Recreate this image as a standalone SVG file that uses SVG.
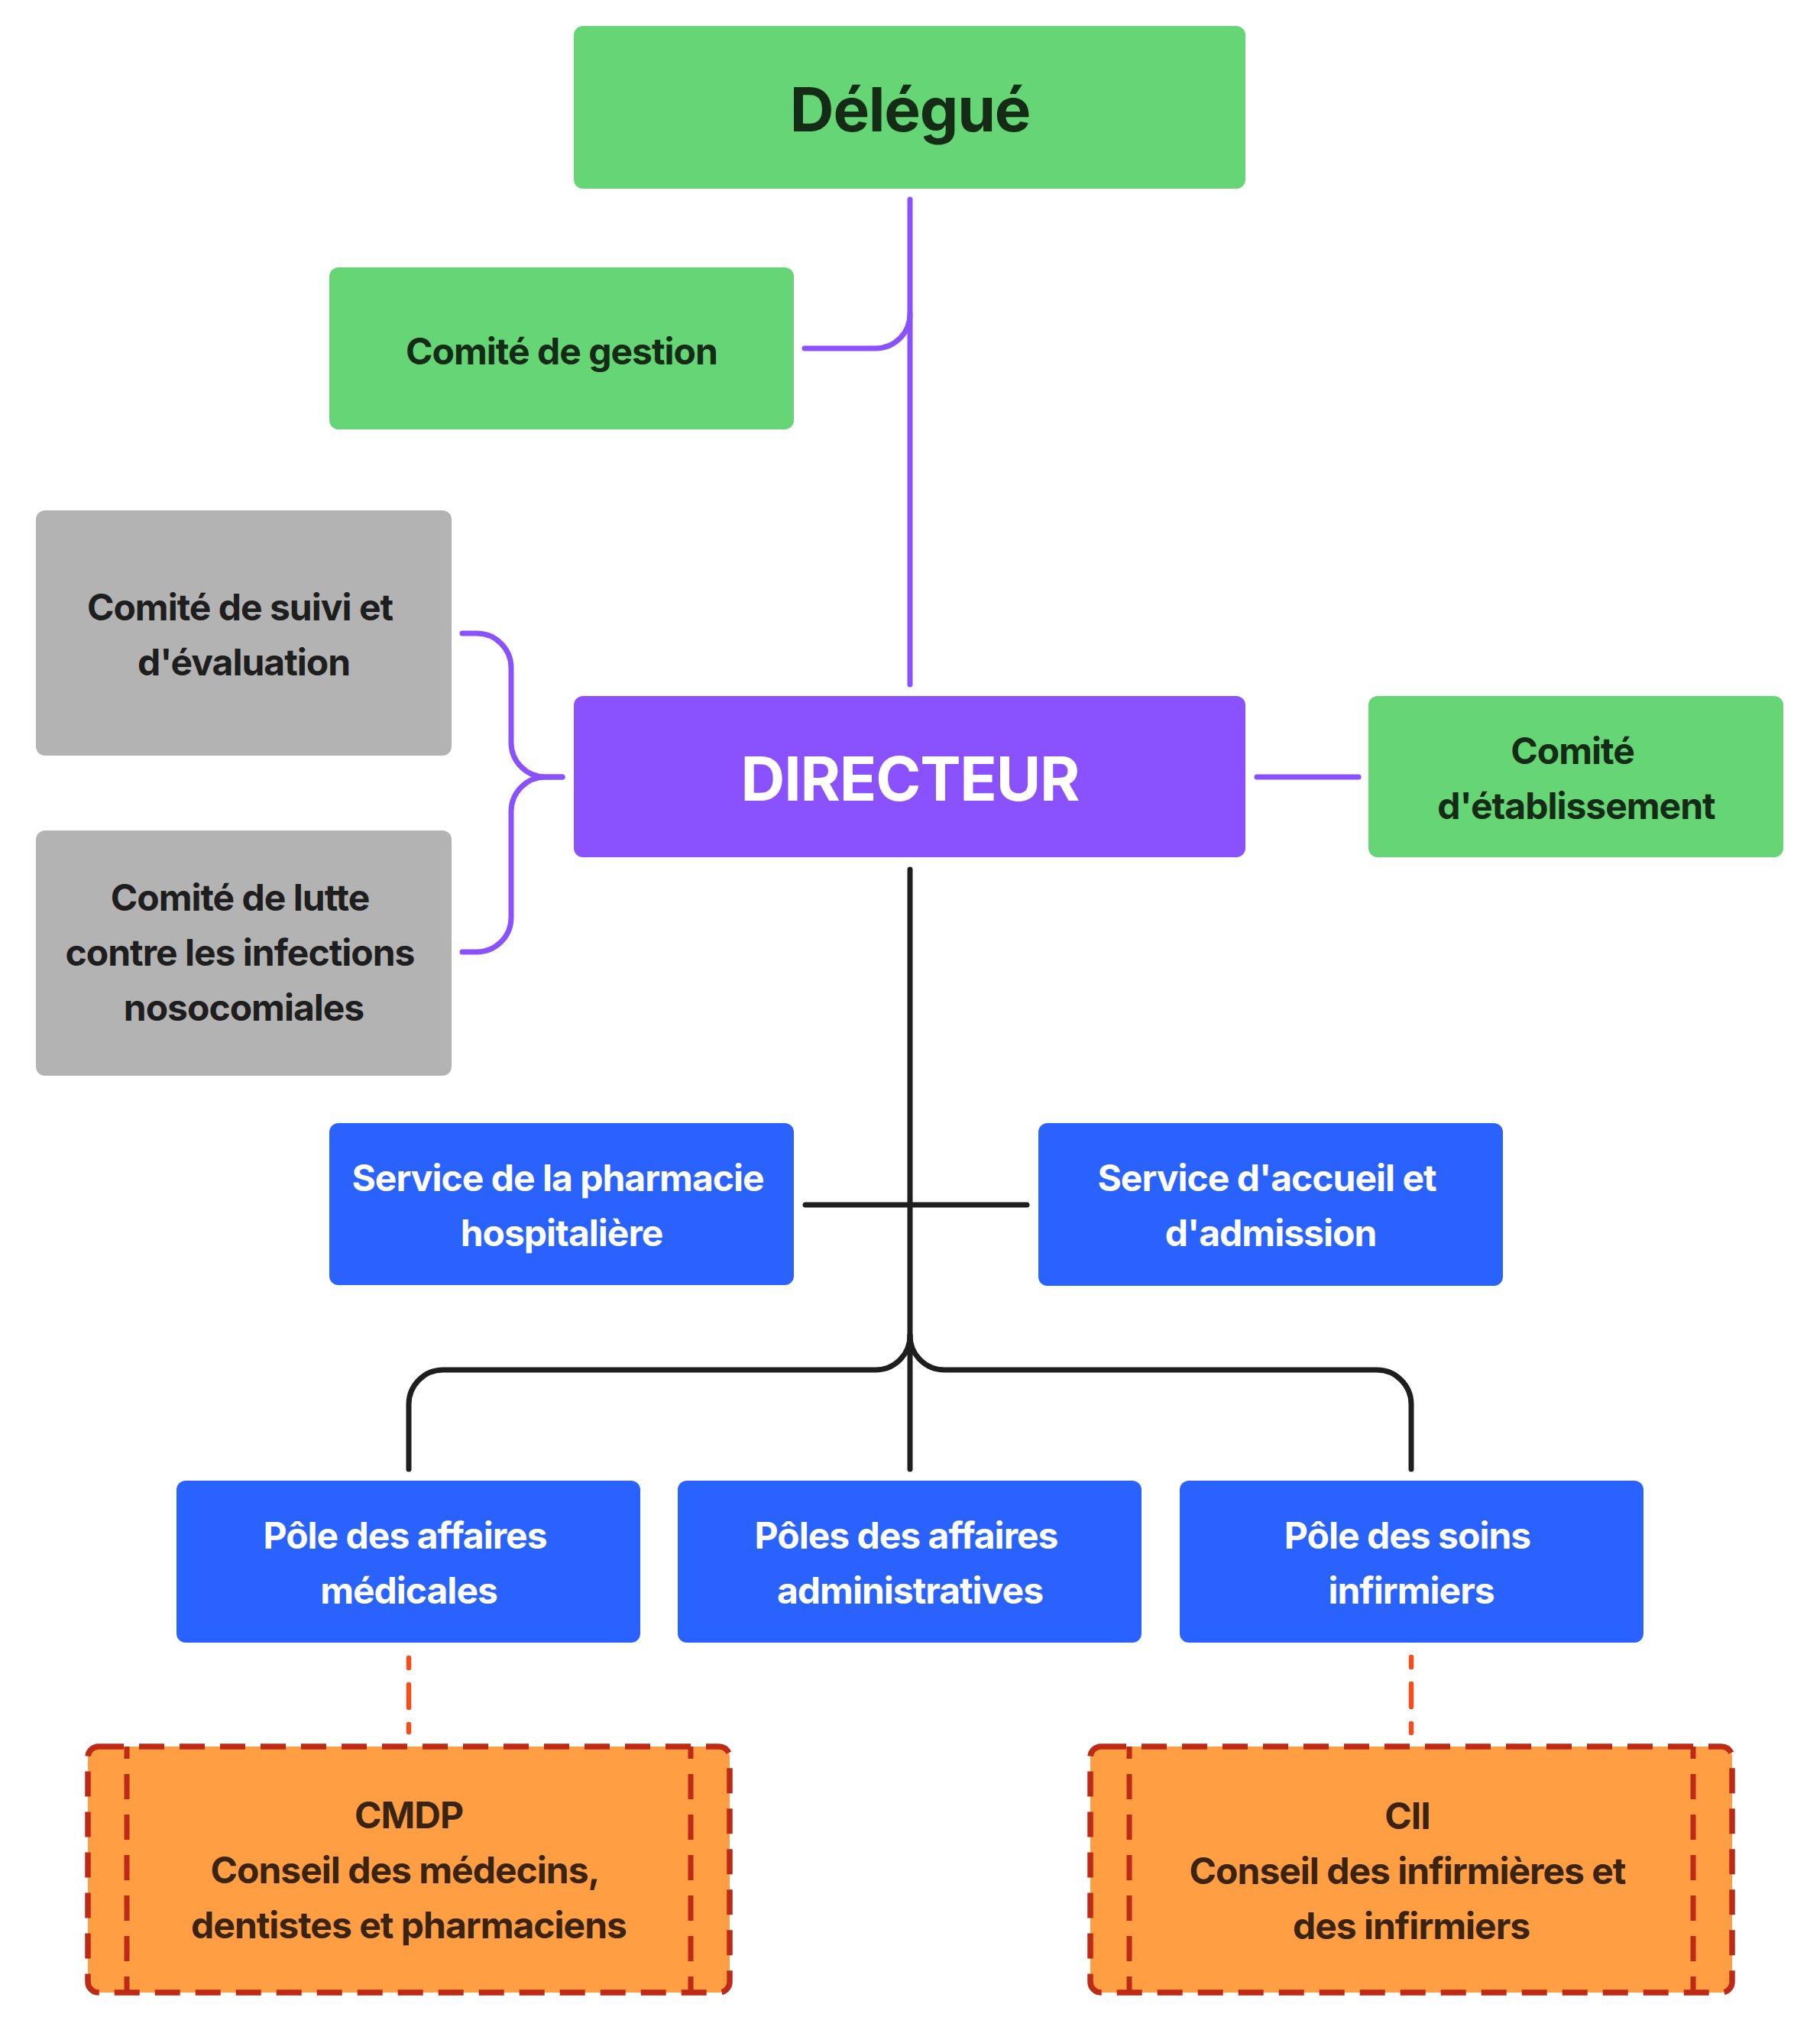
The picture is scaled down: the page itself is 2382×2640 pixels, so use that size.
<svg xmlns="http://www.w3.org/2000/svg" width="2382" height="2640" viewBox="0 0 2382 2640">
<style>
.t{font-family:Inter,"Liberation Sans",sans-serif;font-weight:700;font-size:48px;text-anchor:middle;letter-spacing:-1px}
.big{font-size:80px;letter-spacing:-1.2px}
.green{fill:#66D575}
.gtxt{fill:#142B15}
.grey{fill:#B3B3B3}
.dtxt{fill:#1E1E1E}
.purple{fill:#8A52FF}
.blue{fill:#2962FF}
.wtxt{fill:#FFFFFF}
.orange{fill:#FF9E43;stroke:#BD2A15;stroke-width:7.5;stroke-dasharray:33 20}
.inner{fill:none;stroke:#BD2A15;stroke-width:7;stroke-dasharray:33 20;stroke-dashoffset:17}
.otxt{fill:#3A2310}
.cp{fill:none;stroke:#8A52FF;stroke-width:7;stroke-linecap:round;stroke-linejoin:round}
.ck{fill:none;stroke:#1E1E1E;stroke-width:7;stroke-linecap:round;stroke-linejoin:round}
.cd{fill:none;stroke:#F24E1E;stroke-width:6.5;stroke-linecap:round;stroke-dasharray:30 22;stroke-dashoffset:17}
</style>
<rect width="2382" height="2640" fill="#FFFFFF"/>
<g id="connectors">
<path class="cp" d="M1191 261 V896"/>
<path class="cp" d="M1053 456 H1146 A45 45 0 0 0 1191 411"/>
<path class="cp" d="M605 829 H624 A45 45 0 0 1 669 874 V972 A45 45 0 0 0 714 1017 H736"/>
<path class="cp" d="M736 1017 H714 A45 45 0 0 0 669 1062 V1201 A45 45 0 0 1 624 1246 H605"/>
<path class="cp" d="M1645 1017 H1778"/>
<path class="ck" d="M1191 1138 V1923"/>
<path class="ck" d="M1054 1577 H1344"/>
<path class="ck" d="M1191 1748 A45 45 0 0 1 1146 1793 H580 A45 45 0 0 0 535 1838 V1923"/>
<path class="ck" d="M1191 1748 A45 45 0 0 0 1236 1793 H1802 A45 45 0 0 1 1847 1838 V1923"/>
<path class="cd" d="M535 2170 V2267"/>
<path class="cd" d="M1847 2169 V2268"/>
</g>
<g id="delegue">
<rect class="green" x="751" y="34" width="879" height="213" rx="12"/>
<text class="t big gtxt" x="1191" y="172">Délégué</text>
</g>
<g id="comite-gestion">
<rect class="green" x="431" y="350" width="608" height="212" rx="12"/>
<text class="t gtxt" x="735" y="477">Comité de gestion</text>
</g>
<g id="comite-suivi">
<rect class="grey" x="47" y="668" width="544" height="321" rx="12"/>
<text class="t dtxt" x="314" y="812">Comité de suivi et</text>
<text class="t dtxt" x="319" y="884">d'évaluation</text>
</g>
<g id="comite-lutte">
<rect class="grey" x="47" y="1087" width="544" height="321" rx="12"/>
<text class="t dtxt" x="314" y="1192">Comité de lutte</text>
<text class="t dtxt" x="314" y="1264">contre les infections</text>
<text class="t dtxt" x="319" y="1336">nosocomiales</text>
</g>
<g id="directeur">
<rect class="purple" x="751" y="911" width="879" height="211" rx="12"/>
<text class="t big wtxt" x="1191" y="1048">DIRECTEUR</text>
</g>
<g id="comite-etablissement">
<rect class="green" x="1791" y="911" width="543" height="211" rx="12"/>
<text class="t gtxt" x="2058" y="1000">Comité</text>
<text class="t gtxt" x="2063" y="1072">d'établissement</text>
</g>
<g id="service-pharmacie">
<rect class="blue" x="431" y="1470" width="608" height="212" rx="12"/>
<text class="t wtxt" x="730" y="1559">Service de la pharmacie</text>
<text class="t wtxt" x="735" y="1631">hospitalière</text>
</g>
<g id="service-accueil">
<rect class="blue" x="1359" y="1470" width="608" height="213" rx="12"/>
<text class="t wtxt" x="1658" y="1559">Service d'accueil et</text>
<text class="t wtxt" x="1663" y="1631">d'admission</text>
</g>
<g id="pole-medicales">
<rect class="blue" x="231" y="1938" width="607" height="212" rx="12"/>
<text class="t wtxt" x="530" y="2027">Pôle des affaires</text>
<text class="t wtxt" x="535" y="2099">médicales</text>
</g>
<g id="pole-administratives">
<rect class="blue" x="887" y="1938" width="607" height="212" rx="12"/>
<text class="t wtxt" x="1186" y="2027">Pôles des affaires</text>
<text class="t wtxt" x="1191" y="2099">administratives</text>
</g>
<g id="pole-soins">
<rect class="blue" x="1544" y="1938" width="607" height="212" rx="12"/>
<text class="t wtxt" x="1842" y="2027">Pôle des soins</text>
<text class="t wtxt" x="1847" y="2099">infirmiers</text>
</g>
<g id="cmdp">
<rect class="orange" x="115" y="2286" width="840" height="322" rx="14"/>
<path class="inner" d="M166 2286 V2608 M904 2286 V2608"/>
<text class="t otxt" x="535" y="2393">CMDP</text>
<text class="t otxt" x="530" y="2465">Conseil des médecins,</text>
<text class="t otxt" x="535" y="2537">dentistes et pharmaciens</text>
</g>
<g id="cii">
<rect class="orange" x="1427" y="2286" width="840" height="322" rx="14"/>
<path class="inner" d="M1478 2286 V2608 M2216 2286 V2608"/>
<text class="t otxt" x="1842" y="2394">CII</text>
<text class="t otxt" x="1842" y="2466">Conseil des infirmières et</text>
<text class="t otxt" x="1847" y="2538">des infirmiers</text>
</g>
</svg>
